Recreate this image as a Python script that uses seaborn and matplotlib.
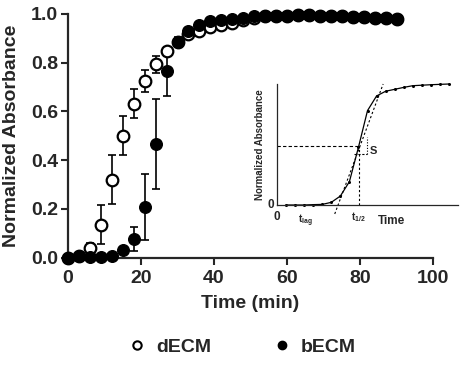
import numpy as np
import pandas as pd
import matplotlib
matplotlib.use("Agg")
import matplotlib.pyplot as plt
import seaborn as sns
from matplotlib.lines import Line2D

# ---- data ----
time = [0, 3, 6, 9, 12, 15, 18, 21, 24, 27, 30, 33, 36, 39, 42, 45, 48, 51, 54, 57,
        60, 63, 66, 69, 72, 75, 78, 81, 84, 87, 90]
decm = [0.0, 0.005, 0.038, 0.135, 0.32, 0.50, 0.632, 0.725, 0.794, 0.846, 0.887, 0.917,
        0.93, 0.945, 0.955, 0.965, 0.975, 0.985, 0.99, 0.992, 0.993, 0.995, 0.995, 0.993,
        0.99, 0.99, 0.988, 0.986, 0.985, 0.983, 0.98]
decm_err = [0.0, 0.0, 0.022, 0.08, 0.10, 0.08, 0.06, 0.045, 0.035, 0.02, 0.01, 0.01,
            0.0, 0.0, 0.0, 0.0, 0.0, 0.0, 0.0, 0.0, 0.0, 0.0, 0.0, 0.0, 0.0,
            0.0, 0.0, 0.0, 0.0, 0.0, 0.0]
becm = [0.0, 0.006, 0.004, 0.004, 0.008, 0.03, 0.077, 0.208, 0.467, 0.764, 0.887, 0.932,
        0.955, 0.97, 0.975, 0.98, 0.985, 0.99, 0.99, 0.992, 0.993, 0.995, 0.995, 0.993,
        0.99, 0.99, 0.988, 0.986, 0.985, 0.983, 0.98]
becm_err = [0.0, 0.0, 0.0, 0.0, 0.0, 0.015, 0.05, 0.135, 0.185, 0.10, 0.02, 0.01,
            0.0, 0.0, 0.0, 0.0, 0.0, 0.0, 0.0, 0.0, 0.0, 0.0, 0.0, 0.0, 0.0,
            0.0, 0.0, 0.0, 0.0, 0.0, 0.0]
x_ticks = [0, 20, 40, 60, 80, 100]
y_ticks = [0.0, 0.2, 0.4, 0.6, 0.8, 1.0]

# inset schematic curve
inset_t = list(range(1, 20))
inset_y = [0.0, 0.0, 0.0, 0.003, 0.005, 0.022, 0.074, 0.193, 0.477, 0.78, 0.901, 0.94,
           0.956, 0.972, 0.986, 0.99, 0.994, 0.997, 1.0]

sns.set_style("ticks")
plt.rcParams['font.family'] = ['Liberation Sans', 'DejaVu Sans']
plt.rcParams['font.weight'] = 'bold'

fig = plt.figure(figsize=(4.63, 3.77), dpi=100)
ax = fig.add_axes([68 / 463, 119.5 / 377, 365 / 463, 243.5 / 377])

df = pd.DataFrame({"time": time, "dECM": decm, "dErr": decm_err,
                   "bECM": becm, "bErr": becm_err})

ax.errorbar(df["time"], df["dECM"], yerr=df["dErr"], fmt="none", ecolor="black",
            elinewidth=1.2, capsize=3, capthick=1.2, clip_on=False, zorder=2)
ax.errorbar(df["time"], df["bECM"], yerr=df["bErr"], fmt="none", ecolor="black",
            elinewidth=1.2, capsize=3, capthick=1.2, clip_on=False, zorder=2)
sns.scatterplot(data=df, x="time", y="dECM", ax=ax, marker="o", s=70,
                facecolor="white", edgecolor="black", linewidth=1.6,
                clip_on=False, zorder=3, legend=False)
sns.scatterplot(data=df, x="time", y="bECM", ax=ax, marker="o", s=70,
                color="black", edgecolor="black", linewidth=1.0,
                clip_on=False, zorder=4, legend=False)

ax.set_xlim(0, 100)
ax.set_ylim(0, 1.0)
ax.set_xticks(x_ticks)
ax.set_yticks(y_ticks)
ax.set_yticklabels([f"{v:.1f}" for v in y_ticks])
ax.tick_params(labelsize=14, width=1.5, length=5, direction="out", pad=2)
ax.tick_params(axis="x", pad=4)
for lbl in ax.get_xticklabels() + ax.get_yticklabels():
    lbl.set_fontweight("bold")
ax.set_xlabel("Time (min)", fontsize=14, fontweight="bold", labelpad=6)
ax.set_ylabel("Normalized Absorbance", fontsize=14, fontweight="bold", labelpad=8)
sns.despine(ax=ax)
for sp in ["left", "bottom"]:
    ax.spines[sp].set_linewidth(1.6)

# legend
handles = [Line2D([], [], marker="o", linestyle="none", markersize=6,
                  markerfacecolor="white", markeredgecolor="black", markeredgewidth=1.5),
           Line2D([], [], marker="o", linestyle="none", markersize=6,
                  markerfacecolor="black", markeredgecolor="black")]
fig.legend(handles, ["dECM", "bECM"], loc="center", bbox_to_anchor=(0.522, 0.08),
           ncol=2, frameon=False, prop={"size": 14, "weight": "bold"},
           handlelength=1.0, handletextpad=0.5, columnspacing=3.1)

# inset
ins = fig.add_axes([277 / 463, (377 - 205) / 377, 181 / 463, 121 / 377])
ins.patch.set_alpha(0)
sns.lineplot(x=inset_t, y=inset_y, ax=ins, color="black", linewidth=0.9,
             marker="o", markersize=2.2, markeredgewidth=0, clip_on=False)
ins.set_xlim(0, 20)
ins.set_ylim(0, 1.0)
ins.set_xticks([])
ins.set_yticks([])
sns.despine(ax=ins)
for sp in ["left", "bottom"]:
    ins.spines[sp].set_linewidth(0.9)
ins.plot([6.38, 11.73], [-0.074, 1.0], ls=(0, (2, 2)), color="black", lw=0.8, clip_on=False)
ins.plot([0, 9.08], [0.49, 0.49], ls=(0, (3, 2)), color="black", lw=0.8)
ins.plot([9.08, 9.08], [0.0, 0.49], ls=(0, (2, 2)), color="black", lw=0.8)
ins.plot([8.5, 9.9], [0.42, 0.42], ls=(0, (2, 1.5)), color="black", lw=0.8)
ins.plot([9.9, 9.9], [0.42, 0.56], ls=(0, (1, 1.5)), color="black", lw=0.8)
ins.text(10.3, 0.45, "S", fontsize=8, fontweight="bold", va="center")
ins.text(-0.3, 0.0, "0", fontsize=8.5, fontweight="bold", ha="right", va="center")
ins.text(0.0, -0.05, "0", fontsize=8.5, fontweight="bold", ha="center", va="top")
ins.text(3.1, -0.06, "t$_{\\mathregular{lag}}$", fontsize=7, fontweight="bold", ha="center", va="top")
ins.text(9.0, -0.04, "t$_{\\mathregular{1/2}}$", fontsize=7, fontweight="bold", ha="center", va="top")
ins.text(12.7, -0.08, "Time", fontsize=8.5, fontweight="bold", ha="center", va="top")
ins.text(-1.9, 0.5, "Normalized Absorbance", fontsize=7, fontweight="bold",
         rotation=90, ha="center", va="center")

fig.savefig("out.png", dpi=100)
